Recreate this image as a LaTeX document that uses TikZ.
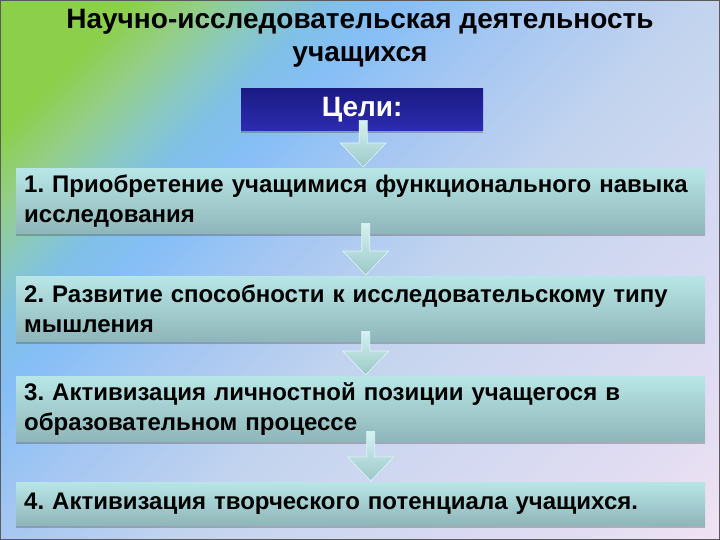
\documentclass[tikz,border=0pt]{standalone}
\usepackage{fontspec}
\setmainfont{Liberation Sans}
\usetikzlibrary{shadows,calc}
\definecolor{bgA}{HTML}{8CCF4A}
\definecolor{bgB}{HTML}{94CE88}
\definecolor{bgB2}{HTML}{88C8C4}
\definecolor{bgC}{HTML}{80C0E6}
\definecolor{bgD}{HTML}{86BEF6}
\definecolor{bgE}{HTML}{A4C6F2}
\definecolor{bgF}{HTML}{C4D4EE}
\definecolor{bgG}{HTML}{D0D8F0}
\definecolor{bgH}{HTML}{E0DCF2}
\definecolor{bgI}{HTML}{F4E4F2}
\pgfdeclarehorizontalshading{bgshade}{100bp}{color(0bp)=(bgA); color(22bp)=(bgA); color(26bp)=(bgB); color(30bp)=(bgB2); color(33bp)=(bgC); color(37bp)=(bgD); color(44bp)=(bgE); color(55bp)=(bgF); color(64bp)=(bgG); color(76bp)=(bgH); color(88bp)=(bgI); color(100bp)=(bgI)}
\definecolor{boxTop}{HTML}{B8E6E6}
\definecolor{boxBot}{HTML}{8FB6BA}
\definecolor{navyTop}{HTML}{1A1A84}
\definecolor{navyBot}{HTML}{2C2CB0}
\definecolor{arrTop}{HTML}{D4F2F2}
\definecolor{arrBot}{HTML}{9CC8C8}
\definecolor{frame}{HTML}{5A5A5A}
\tikzset{
  goalbox/.style={draw=none, top color=boxTop, bottom color=boxBot,
    anchor=north west, text width=673pt, inner xsep=8pt, inner ysep=0pt,
    align=left, font=\bfseries\fontsize{24}{30}\selectfont,
    drop shadow={shadow xshift=0pt, shadow yshift=-3pt, opacity=0.35, fill=black!70}},
  headbox/.style={draw=none, top color=navyTop, bottom color=navyBot,
    anchor=north west, minimum width=242pt, minimum height=42pt, inner sep=0pt,
    text=white, font=\bfseries\fontsize{28}{32}\selectfont,
    drop shadow={shadow xshift=0pt, shadow yshift=-3pt, opacity=0.35, fill=black!70}},
  titletext/.style={align=center, font=\bfseries\fontsize{28}{33}\selectfont},
  arrowshade/.style={top color=arrTop, bottom color=arrBot, draw=arrTop!80!white, line width=0.6pt}
}
\newcommand\flowarrow[3]{%
  \path[arrowshade] let \p1=(#1.south), \p2=(#2.north) in
    (\x1+#3-4pt,\y1+10pt) -- (\x1+#3+4pt,\y1+10pt) -- (\x1+#3+4pt,\y2+25pt)
    -- (\x1+#3+23pt,\y2+25pt) -- (\x1+#3,\y2+1pt) -- (\x1+#3-23pt,\y2+25pt)
    -- (\x1+#3-4pt,\y2+25pt) -- cycle;}
\begin{document}
\frenchspacing
\begin{tikzpicture}[x=1pt,y=-1pt]
\useasboundingbox (0,0) rectangle (720,540);
\shade[shading=bgshade, shading angle=-45] (0,0) rectangle (720,540);
\draw[frame, line width=1.2pt] (0.6,0.6) rectangle (719.4,539.4);

\node[titletext] (title) at (360,38) {Научно-исследовательская деятельность\\учащихся};
\node[headbox] (goals) at (241,88) {Цели:};

\node[goalbox, minimum height=65pt] (g1) at (16,168) {1. Приобретение учащимися функционального навыка\\исследования};
\node[goalbox, minimum height=65pt] (g2) at (16,276) {2. Развитие способности к исследовательскому типу\\мышления};
\node[goalbox, minimum height=65pt] (g3) at (16,376) {3. Активизация личностной позиции учащегося в\\образовательном процессе};
\node[goalbox, minimum height=43pt] (g4) at (16,482) {4. Активизация творческого потенциала учащихся.};

\flowarrow{goals}{g1}{1pt}
\flowarrow{g1}{g2}{5pt}
\flowarrow{g2}{g3}{5pt}
\flowarrow{g3}{g4}{10pt}
\end{tikzpicture}
\end{document}
